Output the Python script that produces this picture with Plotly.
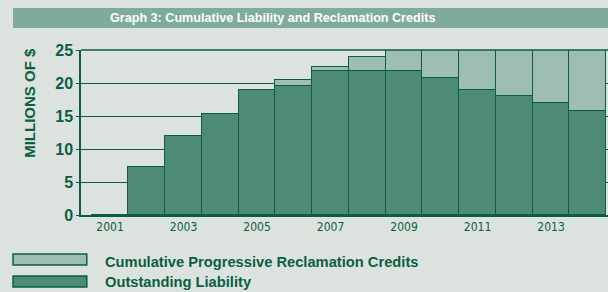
import plotly.graph_objects as go

years = [2001, 2002, 2003, 2004, 2005, 2006, 2007, 2008, 2009, 2010, 2011, 2012, 2013, 2014]
outstanding = [0, 7.2, 12.0, 15.3, 19.0, 19.6, 21.8, 21.8, 21.8, 20.7, 19.0, 18.0, 16.9, 15.8]
credits = [0, 0, 0, 0, 0, 0.8, 0.7, 2.2, 3.6, 5.0, 7.0, 8.3, 9.5, 10.5]
x_ticks = [2001, 2003, 2005, 2007, 2009, 2011, 2013]
y_ticks = [0, 5, 10, 15, 20, 25]

title_text = "Graph 3: Cumulative Liability and Reclamation Credits"
y_title = "MILLIONS OF $"
legend_names = ["Cumulative Progressive Reclamation Credits", "Outstanding Liability"]

BG = "#dce3df"
DARK = "#0b5e45"
FILL_DARK = "#4e8a78"
FILL_LIGHT = "#9ebdb4"
TITLE_BG = "#7fab9d"
NARROW = "DejaVu Sans Condensed, Liberation Sans Narrow, sans-serif"
SANS = "Liberation Sans, Arial, sans-serif"

fig = go.Figure()
fig.add_trace(go.Bar(x=years, y=outstanding, name=legend_names[1], width=1,
                     marker=dict(color=FILL_DARK, line=dict(color=DARK, width=1.5))))
fig.add_trace(go.Bar(x=years, y=credits, name=legend_names[0], width=1,
                     marker=dict(color=FILL_LIGHT, line=dict(color=DARK, width=1))))

shapes = [
    # title band
    dict(type="rect", xref="paper", yref="paper", x0=-0.129, x1=1.0, y0=1.1333, y1=1.2545,
         fillcolor=TITLE_BG, line=dict(width=0), layer="below"),
    # top frame line
    dict(type="line", xref="paper", yref="paper", x0=0, x1=1, y0=1, y1=1,
         line=dict(color=DARK, width=1.5), layer="above"),
    # legend swatches
    dict(type="rect", xref="paper", yref="paper", x0=-0.129, x1=0.011, y0=-0.303, y1=-0.236,
         fillcolor=FILL_LIGHT, line=dict(color=DARK, width=1.5)),
    dict(type="rect", xref="paper", yref="paper", x0=-0.129, x1=0.011, y0=-0.436, y1=-0.370,
         fillcolor=FILL_DARK, line=dict(color=DARK, width=1.5)),
]

annotations = [
    dict(text=title_text, xref="paper", yref="paper", x=0.364, y=1.194,
         xanchor="center", yanchor="middle", showarrow=False,
         font=dict(family=SANS, size=12.6, color="white", weight="bold")),
    dict(text=y_title, xref="paper", yref="paper", x=-0.097, y=0.679,
         xanchor="center", yanchor="middle", showarrow=False, textangle=-90,
         font=dict(family=SANS, size=15, color=DARK, weight="bold")),
    dict(text=legend_names[0], xref="paper", yref="paper", x=0.041, y=-0.285,
         xanchor="left", yanchor="middle", showarrow=False,
         font=dict(family=SANS, size=14.7, color=DARK, weight="bold")),
    dict(text=legend_names[1], xref="paper", yref="paper", x=0.041, y=-0.406,
         xanchor="left", yanchor="middle", showarrow=False,
         font=dict(family=SANS, size=14.7, color=DARK, weight="bold")),
]

fig.update_layout(
    width=608, height=292,
    margin=dict(l=81, r=0, t=50, b=77),
    paper_bgcolor=BG, plot_bgcolor=BG,
    barmode="stack", bargap=0,
    showlegend=False,
    shapes=shapes, annotations=annotations,
    xaxis=dict(range=[2000.21, 2014.55], tickvals=x_ticks, ticktext=[str(v) for v in x_ticks],
               showgrid=False, showline=True, linecolor=DARK, linewidth=1.5, ticks="",
               tickfont=dict(family=NARROW, size=12, color=DARK), zeroline=False),
    yaxis=dict(range=[0, 25], tickvals=y_ticks, showgrid=True, gridcolor=DARK, gridwidth=1,
               showline=True, linecolor=DARK, linewidth=1.5, ticks="outside", ticklen=3,
               tickcolor=DARK, zeroline=False,
               tickfont=dict(family=SANS, size=16, color=DARK, weight="bold")),
)

fig.write_html("out.html", config={"displayModeBar": False},
               post_script="document.body.style.margin='0';document.body.style.overflow='hidden';")
